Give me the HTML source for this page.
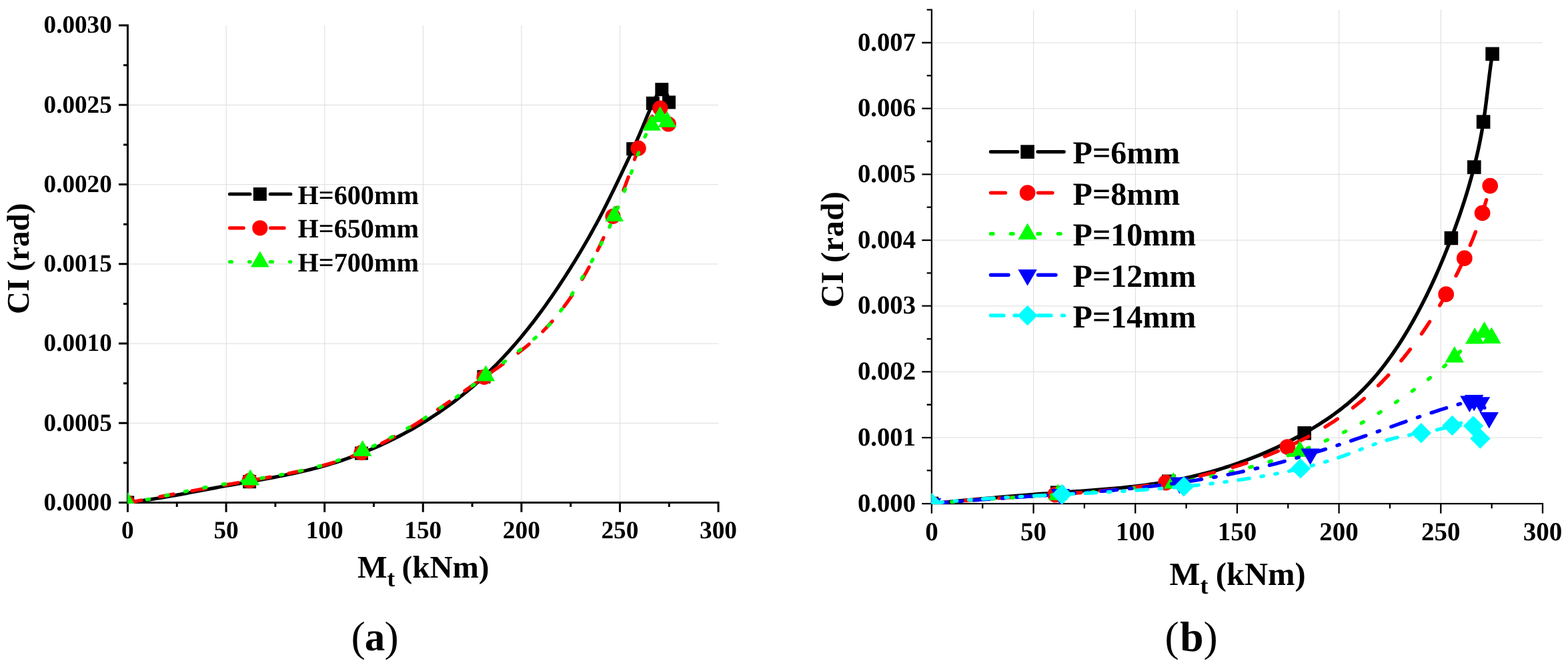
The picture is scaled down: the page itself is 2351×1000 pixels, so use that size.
<!DOCTYPE html>
<html lang="en">
<head>
<meta charset="utf-8">
<title>CI versus torsional moment</title>
<style>
html,body{margin:0;padding:0;background:#fff;}
body{width:2351px;height:1000px;overflow:hidden;}
svg{display:block;}
text{font-family:'Liberation Serif', 'Times New Roman', serif;fill:#000;text-rendering:geometricPrecision;}
.b{font-weight:bold;}
</style>
</head>
<body>
<svg width="2351" height="1000" viewBox="0 0 2351 1000">
<rect width="2351" height="1000" fill="#fff"/>
<clipPath id="cl"><rect x="191" y="0" width="925.6" height="754.8"/></clipPath>
<path d="M339.15 38.1 V753.55 M486.75 38.1 V753.55 M634.35 38.1 V753.55 M781.95 38.1 V753.55 M929.55 38.1 V753.55 M191.45 634.41 H1077.05 M191.45 515.17 H1077.05 M191.45 395.92 H1077.05 M191.45 276.68 H1077.05 M191.45 157.44 H1077.05" stroke="#dcdcdc" stroke-width="1" fill="none"/>
<path d="M191.45 36.6 V755.05 M189.95 753.55 H1078.55 M191.45 753.55 v14.15 M339.05 753.55 v14.15 M486.65 753.55 v14.15 M634.25 753.55 v14.15 M781.85 753.55 v14.15 M929.45 753.55 v14.15 M1077.05 753.55 v14.15 M265.25 753.55 v6.4 M412.85 753.55 v6.4 M560.45 753.55 v6.4 M708.05 753.55 v6.4 M855.65 753.55 v6.4 M1003.25 753.55 v6.4 M191.45 753.55 h-13.45 M191.45 634.31 h-13.45 M191.45 515.07 h-13.45 M191.45 395.82 h-13.45 M191.45 276.58 h-13.45 M191.45 157.34 h-13.45 M191.45 38.1 h-13.45 M191.45 693.93 h-6.4 M191.45 574.69 h-6.4 M191.45 455.45 h-6.4 M191.45 336.2 h-6.4 M191.45 216.96 h-6.4 M191.45 97.72 h-6.4" stroke="#000" stroke-width="3" fill="none"/>
<g clip-path="url(#cl)">
<path d="M191.2 753.4 L196.76 752.76 L202.3 752.08 L207.84 751.36 L213.37 750.61 L218.89 749.82 L224.4 749.01 L229.91 748.16 L235.4 747.28 L240.9 746.39 L246.39 745.46 L251.87 744.52 L257.35 743.56 L262.83 742.58 L268.3 741.59 L273.77 740.59 L279.24 739.57 L284.7 738.55 L290.17 737.52 L295.64 736.48 L301.1 735.45 L306.57 734.41 L312.04 733.38 L317.51 732.35 L322.98 731.32 L328.46 730.31 L333.94 729.3 L339.42 728.31 L344.91 727.33 L350.4 726.36 L355.89 725.39 L361.39 724.43 L366.89 723.47 L372.38 722.51 L377.88 721.54 L383.38 720.57 L388.87 719.6 L394.36 718.61 L399.85 717.62 L405.34 716.6 L410.82 715.58 L416.3 714.53 L421.78 713.46 L427.24 712.37 L432.7 711.26 L438.16 710.11 L443.6 708.94 L449.04 707.73 L454.47 706.49 L459.89 705.21 L465.3 703.9 L470.7 702.54 L476.08 701.13 L481.45 699.69 L486.82 698.19 L492.16 696.64 L497.5 695.05 L502.82 693.4 L508.12 691.7 L513.41 689.96 L518.68 688.16 L523.94 686.31 L529.17 684.42 L534.4 682.48 L539.6 680.48 L544.78 678.44 L549.95 676.35 L555.1 674.22 L560.23 672.03 L565.33 669.8 L570.42 667.52 L575.48 665.19 L580.53 662.81 L585.55 660.39 L590.54 657.92 L595.52 655.41 L600.47 652.84 L605.4 650.23 L610.3 647.58 L615.17 644.87 L620.03 642.13 L624.85 639.33 L629.65 636.49 L634.42 633.61 L639.16 630.68 L643.88 627.7 L648.56 624.68 L653.22 621.62 L657.85 618.51 L662.45 615.36 L667.01 612.16 L671.55 608.92 L676.06 605.63 L680.53 602.3 L684.97 598.93 L689.37 595.52 L693.75 592.06 L698.09 588.56 L702.39 585.01 L706.66 581.42 L710.9 577.79 L715.1 574.12 L719.26 570.41 L723.38 566.65 L727.47 562.86 L731.52 559.02 L735.54 555.14 L739.51 551.22 L743.45 547.27 L747.36 543.27 L751.23 539.24 L755.06 535.18 L758.86 531.08 L762.62 526.95 L766.35 522.79 L770.05 518.59 L773.71 514.37 L777.34 510.11 L780.93 505.83 L784.5 501.52 L788.03 497.18 L791.53 492.82 L794.99 488.44 L798.43 484.03 L801.84 479.6 L805.21 475.15 L808.55 470.68 L811.87 466.19 L815.16 461.68 L818.41 457.15 L821.64 452.61 L824.84 448.05 L828.01 443.48 L831.15 438.89 L834.27 434.29 L837.36 429.68 L840.42 425.06 L843.46 420.44 L846.47 415.8 L849.45 411.15 L852.41 406.5 L855.35 401.85 L858.25 397.19 L861.14 392.52 L864 387.85 L866.84 383.17 L869.66 378.48 L872.47 373.77 L875.25 369.04 L878.01 364.29 L880.76 359.51 L883.49 354.71 L886.21 349.88 L888.92 345.02 L891.61 340.11 L894.3 335.17 L896.97 330.19 L899.64 325.16 L902.3 320.09 L904.95 314.96 L907.6 309.78 L910.24 304.54 L912.88 299.26 L915.5 293.95 L918.11 288.64 L920.69 283.33 L923.24 278.06 L925.76 272.83 L928.24 267.67 L930.67 262.6 L933.05 257.62 L935.38 252.72 L937.68 247.9 L939.93 243.13 L942.16 238.42 L944.35 233.73 L946.51 229.07 L948.65 224.41 L950.78 219.75 L952.89 215.07 L954.99 210.35 L957.08 205.6 L959.18 200.78 L961.27 195.89 L963.37 190.92 L965.47 185.85 L967.61 180.66 L969.81 175.35 L972.1 169.89 L974.52 164.27 L977.09 158.46 L979.86 152.47 L982.81 146.49 L985.88 141.11 L989.01 136.88 L992.11 134.38 L995.13 134.21 L998 136.93 L1000.65 143.12 L1003.01 153.37" stroke="#000" stroke-width="5.2" fill="none" stroke-linecap="round" stroke-linejoin="round"/>
<rect x="181.2" y="743.4" width="20" height="20" fill="#000"/>
<rect x="364.1" y="712.2" width="20" height="20" fill="#000"/>
<rect x="531.9" y="669.6" width="20" height="20" fill="#000"/>
<rect x="715.4" y="554.8" width="20" height="20" fill="#000"/>
<rect x="939.2" y="213.2" width="20" height="20" fill="#000"/>
<rect x="968.8" y="144.8" width="20" height="20" fill="#000"/>
<rect x="982.3" y="124.2" width="20" height="20" fill="#000"/>
<rect x="993" y="143.4" width="20" height="20" fill="#000"/>
<path d="M191.3 754 L196.75 752.92 L202.19 751.85 L207.63 750.8 L213.06 749.75 L218.49 748.7 L223.92 747.67 L229.34 746.64 L234.76 745.62 L240.18 744.61 L245.59 743.6 L251 742.6 L256.41 741.61 L261.82 740.62 L267.22 739.63 L272.62 738.65 L278.03 737.67 L283.43 736.7 L288.83 735.73 L294.23 734.77 L299.64 733.81 L305.04 732.85 L310.44 731.89 L315.85 730.93 L321.26 729.98 L326.67 729.03 L332.08 728.07 L337.49 727.12 L342.91 726.17 L348.33 725.22 L353.75 724.27 L359.18 723.31 L364.61 722.36 L370.05 721.41 L375.49 720.45 L380.94 719.49 L386.38 718.52 L391.84 717.55 L397.29 716.57 L402.74 715.58 L408.2 714.57 L413.65 713.55 L419.09 712.51 L424.54 711.46 L429.98 710.38 L435.41 709.27 L440.83 708.15 L446.25 706.99 L451.65 705.8 L457.04 704.59 L462.43 703.33 L467.8 702.04 L473.15 700.72 L478.49 699.35 L483.81 697.94 L489.12 696.49 L494.4 694.98 L499.67 693.43 L504.91 691.83 L510.13 690.18 L515.33 688.47 L520.51 686.7 L525.65 684.88 L530.78 682.99 L535.87 681.04 L540.94 679.02 L545.97 676.94 L550.98 674.79 L555.95 672.57 L560.9 670.29 L565.82 667.95 L570.72 665.56 L575.59 663.11 L580.44 660.6 L585.26 658.04 L590.06 655.43 L594.84 652.77 L599.6 650.07 L604.34 647.32 L609.06 644.53 L613.76 641.7 L618.44 638.83 L623.11 635.93 L627.77 632.99 L632.41 630.02 L637.03 627.02 L641.65 623.99 L646.25 620.94 L650.84 617.86 L655.43 614.76 L660 611.64 L664.57 608.51 L669.12 605.36 L673.68 602.19 L678.22 599.02 L682.77 595.83 L687.31 592.64 L691.85 589.44 L696.38 586.24 L700.92 583.04 L705.45 579.83 L709.99 576.63 L714.53 573.44 L719.07 570.25 L723.62 567.08 L728.17 563.91 L732.72 560.75 L737.27 557.6 L741.82 554.45 L746.36 551.29 L750.89 548.12 L755.4 544.94 L759.89 541.74 L764.35 538.52 L768.78 535.26 L773.18 531.97 L777.55 528.65 L781.87 525.28 L786.14 521.86 L790.37 518.39 L794.54 514.86 L798.65 511.27 L802.7 507.61 L806.69 503.88 L810.61 500.08 L814.47 496.22 L818.27 492.29 L822 488.29 L825.68 484.23 L829.29 480.11 L832.84 475.94 L836.33 471.7 L839.77 467.42 L843.14 463.07 L846.46 458.68 L849.72 454.24 L852.93 449.74 L856.08 445.2 L859.18 440.62 L862.22 435.99 L865.21 431.32 L868.15 426.62 L871.04 421.87 L873.87 417.09 L876.65 412.27 L879.39 407.42 L882.08 402.55 L884.72 397.64 L887.31 392.72 L889.86 387.78 L892.37 382.81 L894.84 377.84 L897.26 372.86 L899.65 367.87 L902 362.87 L904.31 357.88 L906.59 352.88 L908.83 347.9 L911.04 342.92 L913.21 337.95 L915.36 333 L917.48 328.05 L919.57 323.12 L921.63 318.19 L923.67 313.25 L925.69 308.32 L927.68 303.37 L929.65 298.41 L931.61 293.43 L933.55 288.44 L935.47 283.42 L937.38 278.37 L939.28 273.28 L941.17 268.16 L943.05 263 L944.92 257.79 L946.78 252.54 L948.64 247.23 L950.5 241.86 L952.35 236.44 L954.21 230.95 L956.06 225.39 L957.92 219.75 L959.8 214.07 L961.72 208.38 L963.71 202.74 L965.8 197.19 L968.01 191.8 L970.38 186.6 L972.93 181.65 L975.68 177.01 L978.67 172.71 L981.93 168.81 L985.48 165.37 L989.34 162.43" stroke="#ff0000" stroke-width="5.2" fill="none" stroke-linecap="round" stroke-linejoin="round" stroke-dasharray="21 28.1"/>
<circle cx="191.3" cy="754" r="11.6" fill="#ff0000"/>
<circle cx="374.1" cy="720.7" r="11.6" fill="#ff0000"/>
<circle cx="542" cy="678.6" r="11.6" fill="#ff0000"/>
<circle cx="726" cy="565.4" r="11.6" fill="#ff0000"/>
<circle cx="919" cy="324.4" r="11.6" fill="#ff0000"/>
<circle cx="957.1" cy="222.2" r="11.6" fill="#ff0000"/>
<circle cx="989.8" cy="162.1" r="11.6" fill="#ff0000"/>
<circle cx="1002.2" cy="186" r="11.6" fill="#ff0000"/>
<path d="M191.6 754.1 L196.99 753.21 L202.36 752.29 L207.7 751.33 L213.02 750.35 L218.32 749.34 L223.6 748.3 L228.86 747.24 L234.1 746.16 L239.34 745.07 L244.56 743.97 L249.77 742.86 L254.98 741.74 L260.18 740.62 L265.38 739.5 L270.58 738.38 L275.78 737.27 L280.98 736.16 L286.19 735.07 L291.41 734 L296.63 732.94 L301.87 731.91 L307.12 730.9 L312.38 729.92 L317.66 728.96 L322.95 728.02 L328.26 727.11 L333.57 726.21 L338.9 725.32 L344.23 724.45 L349.57 723.59 L354.92 722.74 L360.27 721.89 L365.63 721.04 L370.99 720.19 L376.35 719.34 L381.71 718.49 L387.08 717.63 L392.44 716.75 L397.79 715.87 L403.15 714.97 L408.5 714.05 L413.84 713.11 L419.18 712.15 L424.51 711.17 L429.82 710.15 L435.13 709.11 L440.43 708.03 L445.71 706.92 L450.98 705.77 L456.24 704.58 L461.48 703.35 L466.7 702.07 L471.9 700.74 L477.08 699.37 L482.25 697.94 L487.39 696.45 L492.51 694.91 L497.6 693.31 L502.68 691.66 L507.73 689.95 L512.76 688.19 L517.77 686.37 L522.76 684.51 L527.72 682.59 L532.67 680.62 L537.6 678.61 L542.5 676.54 L547.39 674.43 L552.26 672.27 L557.11 670.07 L561.94 667.82 L566.75 665.53 L571.55 663.2 L576.32 660.83 L581.08 658.41 L585.82 655.96 L590.54 653.46 L595.25 650.93 L599.94 648.37 L604.62 645.76 L609.27 643.13 L613.92 640.45 L618.55 637.75 L623.16 635.01 L627.76 632.24 L632.34 629.45 L636.91 626.62 L641.46 623.76 L646.01 620.88 L650.54 617.97 L655.05 615.04 L659.55 612.08 L664.04 609.1 L668.52 606.09 L672.99 603.07 L677.44 600.02 L681.89 596.95 L686.32 593.87 L690.74 590.76 L695.15 587.64 L699.55 584.5 L703.95 581.35 L708.33 578.19 L712.7 575.01 L717.06 571.82 L721.42 568.62 L725.76 565.4 L730.1 562.18 L734.43 558.95 L738.75 555.71 L743.07 552.47 L747.38 549.22 L751.68 545.97 L755.97 542.71 L760.26 539.45 L764.55 536.18 L768.82 532.92 L773.1 529.66 L777.36 526.4 L781.63 523.14 L785.88 519.87 L790.11 516.59 L794.31 513.29 L798.48 509.95 L802.59 506.57 L806.64 503.13 L810.63 499.62 L814.53 496.03 L818.35 492.35 L822.06 488.57 L825.67 484.69 L829.17 480.7 L832.58 476.61 L835.9 472.43 L839.14 468.17 L842.3 463.85 L845.41 459.45 L848.46 455.01 L851.46 450.52 L854.43 445.99 L857.36 441.44 L860.28 436.86 L863.17 432.27 L866.04 427.67 L868.9 423.04 L871.72 418.41 L874.53 413.76 L877.31 409.09 L880.06 404.42 L882.78 399.73 L885.47 395.03 L888.13 390.31 L890.76 385.59 L893.36 380.85 L895.92 376.1 L898.44 371.35 L900.93 366.58 L903.38 361.81 L905.78 357.02 L908.15 352.23 L910.47 347.43 L912.75 342.62 L914.98 337.81 L917.17 332.99 L919.31 328.16 L921.41 323.32 L923.47 318.48 L925.5 313.62 L927.5 308.75 L929.46 303.88 L931.4 298.98 L933.32 294.08 L935.22 289.16 L937.1 284.22 L938.97 279.27 L940.83 274.3 L942.68 269.31 L944.53 264.3 L946.37 259.27 L948.22 254.22 L950.08 249.15 L951.94 244.05 L953.81 238.93 L955.7 233.78 L957.6 228.61 L959.53 223.41 L961.49 218.19 L963.53 213.01 L965.68 207.89 L967.98 202.88 L970.47 198.02 L973.19 193.36 L976.18 188.92 L979.47 184.76 L983.12 180.91 L987.14 177.42 L991.58 174.39 L996.18 174.35 L1000.31 182.83" stroke="#00ff00" stroke-width="5.2" fill="none" stroke-linecap="round" stroke-linejoin="round" stroke-dasharray="3.5 25.6"/>
<path d="M191.6 738 L205.5 762.07 L177.7 762.07Z" fill="#00ff00"/>
<path d="M375.3 703.4 L389.2 727.47 L361.4 727.47Z" fill="#00ff00"/>
<path d="M543.6 660 L557.5 684.07 L529.7 684.07Z" fill="#00ff00"/>
<path d="M728.3 547.4 L742.2 571.47 L714.4 571.47Z" fill="#00ff00"/>
<path d="M921.1 308 L935 332.07 L907.2 332.07Z" fill="#00ff00"/>
<path d="M977 171.8 L990.9 195.87 L963.1 195.87Z" fill="#00ff00"/>
<path d="M989.7 159.3 L1003.6 183.37 L975.8 183.37Z" fill="#00ff00"/>
<path d="M1000.3 166.8 L1014.2 190.87 L986.4 190.87Z" fill="#00ff00"/>
</g>
<text x="167.8" y="764.85" font-size="37.2" text-anchor="end" class="b">0.0000</text>
<text x="167.8" y="645.61" font-size="37.2" text-anchor="end" class="b">0.0005</text>
<text x="167.8" y="526.37" font-size="37.2" text-anchor="end" class="b">0.0010</text>
<text x="167.8" y="407.12" font-size="37.2" text-anchor="end" class="b">0.0015</text>
<text x="167.8" y="287.88" font-size="37.2" text-anchor="end" class="b">0.0020</text>
<text x="167.8" y="168.64" font-size="37.2" text-anchor="end" class="b">0.0025</text>
<text x="167.8" y="49.4" font-size="37.2" text-anchor="end" class="b">0.0030</text>
<text x="191.45" y="806.5" font-size="37.3" text-anchor="middle" class="b">0</text>
<text x="339.05" y="806.5" font-size="37.3" text-anchor="middle" class="b">50</text>
<text x="486.65" y="806.5" font-size="37.3" text-anchor="middle" class="b">100</text>
<text x="634.25" y="806.5" font-size="37.3" text-anchor="middle" class="b">150</text>
<text x="781.85" y="806.5" font-size="37.3" text-anchor="middle" class="b">200</text>
<text x="929.45" y="806.5" font-size="37.3" text-anchor="middle" class="b">250</text>
<text x="1077.05" y="806.5" font-size="37.3" text-anchor="middle" class="b">300</text>
<text x="536" y="865.9" font-size="47.2" class="b">M<tspan dy="13" font-size="35">t</tspan><tspan dy="-13" dx="-1.5"> (kNm)</tspan></text>
<text transform="translate(42.7 470.9) rotate(-90)" font-size="47.2" class="b">CI (rad)</text>
<path d="M344.5 291 H374.8 M405.3 291 H435.8" stroke="#000" stroke-width="5.2" stroke-linecap="round" fill="none"/><rect x="379.8" y="281" width="20" height="20" fill="#000"/><text x="446.5" y="305.5" font-size="40.2" text-anchor="start" class="b">H=600mm</text>
<path d="M344.5 341.8 H365.2 M405.5 341.8 H426.1" stroke="#ff0000" stroke-width="5.2" stroke-linecap="round" fill="none"/><circle cx="389.8" cy="341.8" r="11.6" fill="#ff0000"/><text x="446.5" y="356.3" font-size="40.2" text-anchor="start" class="b">H=650mm</text>
<path d="M344.5 392.5 H347.5 M373.5 392.5 H375.1 M405.3 392.5 H408.5 M434.5 392.5 H435.8" stroke="#00ff00" stroke-width="5.2" stroke-linecap="round" fill="none"/><path d="M389.8 376.5 L403.7 400.57 L375.9 400.57Z" fill="#00ff00"/><text x="446.5" y="407.1" font-size="40.2" text-anchor="start" class="b">H=700mm</text>
<text x="526.4" y="975.6" font-size="63.8">(<tspan class="b" font-size="61" dx="-0.9" dy="-0.6">a</tspan><tspan dx="-0.8" dy="0.6">)</tspan></text>
<clipPath id="cr"><rect x="1396.45" y="0" width="956.07" height="756.1"/></clipPath>
<path d="M1549.68 14.65 V755.05 M1702.36 14.65 V755.05 M1855.03 14.65 V755.05 M2007.71 14.65 V755.05 M2160.39 14.65 V755.05 M1396.9 656.17 H2312.97 M1396.9 557.49 H2312.97 M1396.9 458.81 H2312.97 M1396.9 360.13 H2312.97 M1396.9 261.45 H2312.97 M1396.9 162.77 H2312.97 M1396.9 64.09 H2312.97" stroke="#dcdcdc" stroke-width="1" fill="none"/>
<path d="M1396.9 13.5 V756.2 M1395.75 755.05 H2314.12 M1396.9 755.05 v14.7 M1549.58 755.05 v14.7 M1702.26 755.05 v14.7 M1854.93 755.05 v14.7 M2007.61 755.05 v14.7 M2160.29 755.05 v14.7 M2312.97 755.05 v14.7 M1473.24 755.05 v7.2 M1625.92 755.05 v7.2 M1778.6 755.05 v7.2 M1931.27 755.05 v7.2 M2083.95 755.05 v7.2 M2236.63 755.05 v7.2 M1396.9 755.05 h-14.6 M1396.9 656.07 h-14.6 M1396.9 557.39 h-14.6 M1396.9 458.71 h-14.6 M1396.9 360.03 h-14.6 M1396.9 261.35 h-14.6 M1396.9 162.67 h-14.6 M1396.9 63.99 h-14.6 M1396.9 705.41 h-7.2 M1396.9 606.73 h-7.2 M1396.9 508.05 h-7.2 M1396.9 409.37 h-7.2 M1396.9 310.69 h-7.2 M1396.9 212.01 h-7.2 M1396.9 113.33 h-7.2 M1396.9 14.65 h-7.2" stroke="#000" stroke-width="2.3" fill="none"/>
<g clip-path="url(#cr)">
<path d="M1397 755 L1403.15 754.39 L1409.31 753.78 L1415.46 753.18 L1421.62 752.58 L1427.77 751.98 L1433.93 751.39 L1440.09 750.81 L1446.25 750.23 L1452.41 749.66 L1458.57 749.09 L1464.74 748.52 L1470.9 747.96 L1477.07 747.41 L1483.23 746.86 L1489.4 746.32 L1495.57 745.79 L1501.74 745.25 L1507.91 744.73 L1514.08 744.21 L1520.26 743.7 L1526.43 743.19 L1532.61 742.69 L1538.79 742.2 L1544.96 741.71 L1551.14 741.23 L1557.32 740.76 L1563.51 740.29 L1569.69 739.83 L1575.87 739.38 L1582.06 738.93 L1588.24 738.49 L1594.43 738.05 L1600.62 737.62 L1606.81 737.19 L1613 736.76 L1619.18 736.33 L1625.37 735.89 L1631.56 735.45 L1637.74 734.99 L1643.93 734.52 L1650.11 734.04 L1656.28 733.54 L1662.46 733.02 L1668.63 732.48 L1674.8 731.91 L1680.97 731.32 L1687.13 730.7 L1693.28 730.05 L1699.44 729.37 L1705.58 728.65 L1711.72 727.9 L1717.86 727.1 L1723.99 726.26 L1730.11 725.38 L1736.23 724.45 L1742.33 723.47 L1748.43 722.45 L1754.53 721.36 L1760.61 720.23 L1766.68 719.03 L1772.75 717.79 L1778.8 716.48 L1784.85 715.13 L1790.88 713.71 L1796.9 712.24 L1802.91 710.72 L1808.9 709.14 L1814.88 707.5 L1820.84 705.81 L1826.79 704.06 L1832.72 702.26 L1838.63 700.4 L1844.53 698.48 L1850.4 696.51 L1856.26 694.48 L1862.1 692.4 L1867.92 690.26 L1873.72 688.06 L1879.49 685.81 L1885.25 683.49 L1890.98 681.13 L1896.68 678.7 L1902.37 676.22 L1908.02 673.68 L1913.66 671.09 L1919.26 668.44 L1924.84 665.73 L1930.39 662.96 L1935.91 660.13 L1941.4 657.25 L1946.87 654.31 L1952.3 651.32 L1957.7 648.26 L1963.07 645.15 L1968.4 641.98 L1973.7 638.74 L1978.95 635.44 L1984.16 632.08 L1989.31 628.65 L1994.42 625.15 L1999.46 621.58 L2004.45 617.93 L2009.38 614.22 L2014.24 610.43 L2019.03 606.56 L2023.76 602.61 L2028.4 598.58 L2032.97 594.46 L2037.45 590.27 L2041.85 585.99 L2046.18 581.63 L2050.42 577.19 L2054.59 572.67 L2058.68 568.09 L2062.7 563.44 L2066.64 558.72 L2070.52 553.93 L2074.33 549.09 L2078.07 544.18 L2081.74 539.22 L2085.36 534.21 L2088.91 529.15 L2092.4 524.04 L2095.83 518.89 L2099.21 513.7 L2102.53 508.46 L2105.8 503.2 L2109.02 497.89 L2112.19 492.56 L2115.31 487.2 L2118.38 481.82 L2121.41 476.4 L2124.39 470.97 L2127.33 465.5 L2130.22 460.02 L2133.07 454.51 L2135.87 448.97 L2138.64 443.42 L2141.36 437.84 L2144.04 432.25 L2146.69 426.63 L2149.29 421 L2151.86 415.35 L2154.39 409.68 L2156.88 403.99 L2159.34 398.29 L2161.76 392.57 L2164.15 386.84 L2166.5 381.09 L2168.82 375.33 L2171.11 369.56 L2173.37 363.78 L2175.6 357.99 L2177.8 352.18 L2179.97 346.37 L2182.11 340.55 L2184.21 334.71 L2186.28 328.87 L2188.32 323.02 L2190.33 317.15 L2192.29 311.27 L2194.22 305.39 L2196.12 299.49 L2197.97 293.58 L2199.79 287.67 L2201.57 281.74 L2203.3 275.8 L2205 269.84 L2206.65 263.88 L2208.25 257.9 L2209.82 251.92 L2211.33 245.92 L2212.8 239.91 L2214.23 233.89 L2215.6 227.86 L2216.93 221.81 L2218.2 215.75 L2219.43 209.68 L2220.6 203.6 L2221.72 197.51 L2222.78 191.4 L2223.8 185.28 L2224.75 179.15 L2225.66 173 L2226.52 166.85 L2227.34 160.69 L2228.13 154.52 L2228.89 148.35 L2229.64 142.18 L2230.37 136.01 L2231.1 129.85 L2231.84 123.69 L2232.58 117.54 L2233.33 111.39 L2234.11 105.26 L2234.92 99.14 L2235.76 93.04 L2236.65 86.96 L2237.58 80.89" stroke="#000" stroke-width="5.4" fill="none" stroke-linecap="round" stroke-linejoin="round"/>
<rect x="1386.7" y="744.7" width="20.6" height="20.6" fill="#000"/>
<rect x="1575" y="728.4" width="20.6" height="20.6" fill="#000"/>
<rect x="1742.1" y="711.5" width="20.6" height="20.6" fill="#000"/>
<rect x="1945.4" y="639.1" width="20.6" height="20.6" fill="#000"/>
<rect x="2165.6" y="346.7" width="20.6" height="20.6" fill="#000"/>
<rect x="2200" y="240.3" width="20.6" height="20.6" fill="#000"/>
<rect x="2213.8" y="172.4" width="20.6" height="20.6" fill="#000"/>
<rect x="2227.3" y="70.6" width="20.6" height="20.6" fill="#000"/>
<path d="M1397.01 755 L1402.25 754.47 L1407.49 753.95 L1412.73 753.45 L1417.98 752.97 L1423.24 752.49 L1428.49 752.03 L1433.76 751.59 L1439.02 751.15 L1444.29 750.73 L1449.57 750.31 L1454.85 749.91 L1460.13 749.51 L1465.41 749.13 L1470.7 748.75 L1475.99 748.38 L1481.28 748.01 L1486.58 747.65 L1491.87 747.3 L1497.17 746.95 L1502.47 746.61 L1507.78 746.27 L1513.08 745.93 L1518.39 745.59 L1523.7 745.26 L1529.01 744.92 L1534.32 744.59 L1539.63 744.26 L1544.94 743.92 L1550.26 743.58 L1555.57 743.24 L1560.88 742.9 L1566.2 742.56 L1571.51 742.21 L1576.83 741.85 L1582.14 741.49 L1587.45 741.12 L1592.76 740.75 L1598.07 740.37 L1603.39 739.98 L1608.69 739.58 L1614 739.17 L1619.31 738.75 L1624.61 738.32 L1629.92 737.88 L1635.22 737.43 L1640.52 736.96 L1645.81 736.48 L1651.11 735.99 L1656.4 735.48 L1661.69 734.96 L1666.97 734.42 L1672.25 733.87 L1677.53 733.3 L1682.81 732.7 L1688.08 732.1 L1693.35 731.47 L1698.62 730.82 L1703.88 730.15 L1709.13 729.46 L1714.38 728.75 L1719.63 728.02 L1724.88 727.26 L1730.11 726.48 L1735.35 725.67 L1740.57 724.84 L1745.8 723.99 L1751.01 723.11 L1756.23 722.2 L1761.43 721.26 L1766.63 720.3 L1771.82 719.3 L1777.01 718.28 L1782.19 717.23 L1787.37 716.14 L1792.53 715.03 L1797.69 713.88 L1802.85 712.7 L1807.99 711.48 L1813.13 710.24 L1818.26 708.95 L1823.38 707.64 L1828.5 706.28 L1833.61 704.89 L1838.71 703.46 L1843.8 702 L1848.88 700.49 L1853.95 698.95 L1859.02 697.37 L1864.07 695.74 L1869.12 694.08 L1874.15 692.37 L1879.18 690.62 L1884.19 688.83 L1889.19 687 L1894.18 685.13 L1899.15 683.21 L1904.11 681.25 L1909.05 679.25 L1913.97 677.2 L1918.88 675.11 L1923.76 672.98 L1928.62 670.8 L1933.47 668.57 L1938.29 666.31 L1943.09 664 L1947.86 661.64 L1952.61 659.24 L1957.34 656.79 L1962.03 654.29 L1966.7 651.76 L1971.34 649.17 L1975.96 646.54 L1980.54 643.86 L1985.09 641.13 L1989.6 638.36 L1994.09 635.54 L1998.54 632.67 L2002.95 629.75 L2007.33 626.79 L2011.67 623.77 L2015.98 620.71 L2020.24 617.6 L2024.47 614.44 L2028.65 611.23 L2032.8 607.97 L2036.9 604.66 L2040.95 601.31 L2044.97 597.9 L2048.94 594.44 L2052.87 590.94 L2056.76 587.39 L2060.6 583.79 L2064.41 580.15 L2068.17 576.47 L2071.9 572.74 L2075.58 568.97 L2079.22 565.16 L2082.82 561.31 L2086.39 557.42 L2089.91 553.49 L2093.39 549.52 L2096.84 545.51 L2100.25 541.47 L2103.62 537.39 L2106.95 533.28 L2110.24 529.14 L2113.5 524.96 L2116.72 520.75 L2119.9 516.51 L2123.05 512.24 L2126.16 507.94 L2129.24 503.61 L2132.28 499.25 L2135.28 494.86 L2138.25 490.45 L2141.19 486.02 L2144.09 481.56 L2146.96 477.07 L2149.8 472.57 L2152.6 468.04 L2155.37 463.49 L2158.1 458.92 L2160.81 454.34 L2163.48 449.73 L2166.12 445.11 L2168.73 440.46 L2171.3 435.81 L2173.85 431.14 L2176.36 426.45 L2178.84 421.74 L2181.29 417.02 L2183.71 412.29 L2186.09 407.54 L2188.43 402.77 L2190.74 397.99 L2193.01 393.19 L2195.25 388.37 L2197.45 383.54 L2199.62 378.7 L2201.74 373.84 L2203.83 368.96 L2205.88 364.07 L2207.89 359.17 L2209.85 354.25 L2211.78 349.31 L2213.67 344.36 L2215.52 339.39 L2217.32 334.41 L2219.08 329.41 L2220.8 324.4 L2222.48 319.38 L2224.11 314.34 L2225.7 309.28 L2227.24 304.21 L2228.74 299.12 L2230.19 294.02 L2231.59 288.91 L2232.95 283.78 L2234.26 278.64" stroke="#ff0000" stroke-width="5.4" fill="none" stroke-linecap="round" stroke-linejoin="round" stroke-dasharray="21.8 28.8"/>
<circle cx="1397" cy="755" r="11.85" fill="#ff0000"/>
<circle cx="1582.3" cy="741.5" r="11.85" fill="#ff0000"/>
<circle cx="1748" cy="723.6" r="11.85" fill="#ff0000"/>
<circle cx="1930.4" cy="670" r="11.85" fill="#ff0000"/>
<circle cx="2168.2" cy="441.2" r="11.85" fill="#ff0000"/>
<circle cx="2195.8" cy="387.2" r="11.85" fill="#ff0000"/>
<circle cx="2222.6" cy="319.4" r="11.85" fill="#ff0000"/>
<circle cx="2234.2" cy="278.6" r="11.85" fill="#ff0000"/>
<path d="M1397 755.1 L1401.51 754.68 L1406.01 754.27 L1410.52 753.87 L1415.03 753.47 L1419.55 753.09 L1424.06 752.71 L1428.58 752.34 L1433.1 751.98 L1437.62 751.62 L1442.15 751.27 L1446.67 750.92 L1451.2 750.58 L1455.73 750.25 L1460.26 749.92 L1464.79 749.6 L1469.32 749.28 L1473.85 748.96 L1478.39 748.65 L1482.93 748.34 L1487.46 748.04 L1492 747.73 L1496.54 747.43 L1501.08 747.14 L1505.63 746.84 L1510.17 746.55 L1514.71 746.26 L1519.26 745.97 L1523.8 745.68 L1528.35 745.39 L1532.89 745.1 L1537.44 744.81 L1541.98 744.52 L1546.53 744.23 L1551.08 743.93 L1555.63 743.64 L1560.17 743.35 L1564.72 743.05 L1569.27 742.75 L1573.82 742.45 L1578.36 742.14 L1582.91 741.84 L1587.46 741.52 L1592 741.21 L1596.55 740.89 L1601.09 740.57 L1605.64 740.24 L1610.18 739.91 L1614.72 739.57 L1619.27 739.22 L1623.81 738.87 L1628.35 738.52 L1632.89 738.15 L1637.43 737.78 L1641.97 737.41 L1646.5 737.02 L1651.04 736.63 L1655.57 736.23 L1660.11 735.82 L1664.64 735.4 L1669.17 734.98 L1673.69 734.54 L1678.22 734.1 L1682.75 733.64 L1687.27 733.17 L1691.79 732.7 L1696.31 732.21 L1700.83 731.71 L1705.34 731.2 L1709.86 730.68 L1714.37 730.15 L1718.88 729.6 L1723.39 729.05 L1727.89 728.48 L1732.39 727.89 L1736.89 727.29 L1741.39 726.68 L1745.88 726.05 L1750.38 725.41 L1754.86 724.76 L1759.35 724.09 L1763.83 723.4 L1768.31 722.7 L1772.79 721.98 L1777.27 721.25 L1781.74 720.5 L1786.21 719.73 L1790.67 718.95 L1795.13 718.14 L1799.59 717.32 L1804.05 716.48 L1808.5 715.63 L1812.94 714.75 L1817.39 713.86 L1821.83 712.94 L1826.26 712.01 L1830.7 711.06 L1835.13 710.08 L1839.55 709.09 L1843.97 708.07 L1848.39 707.03 L1852.8 705.98 L1857.21 704.89 L1861.61 703.79 L1866.01 702.67 L1870.41 701.52 L1874.8 700.35 L1879.18 699.16 L1883.56 697.94 L1887.94 696.7 L1892.31 695.43 L1896.68 694.14 L1901.04 692.82 L1905.4 691.48 L1909.75 690.12 L1914.1 688.72 L1918.44 687.31 L1922.77 685.86 L1927.1 684.39 L1931.43 682.89 L1935.75 681.37 L1940.07 679.81 L1944.37 678.23 L1948.67 676.63 L1952.97 674.99 L1957.25 673.33 L1961.52 671.65 L1965.79 669.93 L1970.04 668.2 L1974.29 666.43 L1978.52 664.64 L1982.74 662.83 L1986.94 660.99 L1991.13 659.13 L1995.31 657.24 L1999.47 655.32 L2003.61 653.39 L2007.74 651.43 L2011.85 649.44 L2015.95 647.43 L2020.02 645.4 L2024.07 643.35 L2028.11 641.27 L2032.12 639.17 L2036.12 637.05 L2040.09 634.9 L2044.03 632.74 L2047.96 630.55 L2051.86 628.34 L2055.75 626.1 L2059.61 623.85 L2063.46 621.57 L2067.29 619.26 L2071.11 616.94 L2074.92 614.58 L2078.72 612.21 L2082.5 609.81 L2086.28 607.38 L2090.05 604.93 L2093.82 602.45 L2097.58 599.94 L2101.34 597.41 L2105.1 594.85 L2108.86 592.26 L2112.62 589.65 L2116.39 587 L2120.16 584.33 L2123.93 581.63 L2127.7 578.91 L2131.47 576.15 L2135.21 573.38 L2138.94 570.58 L2142.64 567.76 L2146.31 564.92 L2149.94 562.06 L2153.53 559.18 L2157.07 556.29 L2160.55 553.38 L2163.98 550.45 L2167.34 547.52 L2170.63 544.57 L2173.87 541.61 L2177.08 538.63 L2180.27 535.63 L2183.44 532.62 L2186.63 529.59 L2189.83 526.54 L2193.07 523.47 L2196.36 520.37 L2199.72 517.25 L2203.15 514.1 L2206.67 510.93 L2210.3 507.72 L2214.05 504.52 L2217.88 501.61 L2221.74 499.41 L2225.58 498.36 L2229.34 498.89 L2232.97 501.43 L2236.42 506.39" stroke="#00ff00" stroke-width="5.4" fill="none" stroke-linecap="round" stroke-linejoin="round" stroke-dasharray="3.5 26.55"/>
<path d="M1397 739 L1411.2 763.59 L1382.8 763.59Z" fill="#00ff00"/>
<path d="M1586.2 725.5 L1600.4 750.09 L1572 750.09Z" fill="#00ff00"/>
<path d="M1759.4 708 L1773.6 732.59 L1745.2 732.59Z" fill="#00ff00"/>
<path d="M1949 660.4 L1963.2 684.99 L1934.8 684.99Z" fill="#00ff00"/>
<path d="M2180.8 519 L2195 543.59 L2166.6 543.59Z" fill="#00ff00"/>
<path d="M2211.2 491 L2225.4 515.59 L2197 515.59Z" fill="#00ff00"/>
<path d="M2225.6 482 L2239.8 506.59 L2211.4 506.59Z" fill="#00ff00"/>
<path d="M2236.4 490.4 L2250.6 514.99 L2222.2 514.99Z" fill="#00ff00"/>
<path d="M1397 755.1 L1401.34 754.7 L1405.67 754.31 L1410.01 753.93 L1414.35 753.55 L1418.69 753.18 L1423.03 752.82 L1427.37 752.46 L1431.72 752.11 L1436.06 751.76 L1440.41 751.42 L1444.76 751.08 L1449.11 750.75 L1453.46 750.42 L1457.81 750.09 L1462.16 749.77 L1466.51 749.46 L1470.86 749.14 L1475.22 748.83 L1479.57 748.53 L1483.93 748.22 L1488.29 747.92 L1492.64 747.62 L1497 747.33 L1501.36 747.03 L1505.72 746.74 L1510.08 746.45 L1514.44 746.16 L1518.8 745.87 L1523.16 745.58 L1527.52 745.29 L1531.88 745 L1536.24 744.72 L1540.6 744.43 L1544.96 744.14 L1549.32 743.85 L1553.69 743.57 L1558.05 743.28 L1562.41 742.98 L1566.77 742.69 L1571.13 742.4 L1575.5 742.1 L1579.86 741.81 L1584.22 741.51 L1588.58 741.2 L1592.94 740.9 L1597.3 740.59 L1601.66 740.28 L1606.02 739.96 L1610.38 739.65 L1614.74 739.32 L1619.1 739 L1623.46 738.67 L1627.82 738.33 L1632.17 737.99 L1636.53 737.65 L1640.89 737.3 L1645.24 736.95 L1649.6 736.58 L1653.95 736.22 L1658.3 735.85 L1662.65 735.47 L1667 735.08 L1671.35 734.69 L1675.7 734.29 L1680.05 733.88 L1684.4 733.47 L1688.74 733.05 L1693.09 732.62 L1697.43 732.18 L1701.77 731.74 L1706.12 731.29 L1710.46 730.82 L1714.79 730.35 L1719.13 729.87 L1723.47 729.38 L1727.8 728.88 L1732.13 728.37 L1736.47 727.85 L1740.79 727.32 L1745.12 726.78 L1749.45 726.23 L1753.77 725.67 L1758.1 725.1 L1762.42 724.51 L1766.74 723.92 L1771.05 723.31 L1775.37 722.69 L1779.68 722.06 L1784 721.41 L1788.31 720.75 L1792.61 720.08 L1796.92 719.4 L1801.22 718.7 L1805.52 717.99 L1809.82 717.27 L1814.12 716.53 L1818.42 715.78 L1822.71 715.01 L1827 714.23 L1831.29 713.43 L1835.57 712.62 L1839.85 711.79 L1844.13 710.95 L1848.41 710.09 L1852.69 709.21 L1856.96 708.32 L1861.23 707.42 L1865.5 706.49 L1869.76 705.55 L1874.02 704.59 L1878.28 703.62 L1882.54 702.63 L1886.79 701.62 L1891.04 700.6 L1895.29 699.57 L1899.53 698.52 L1903.77 697.45 L1908.01 696.37 L1912.24 695.27 L1916.48 694.16 L1920.7 693.03 L1924.93 691.89 L1929.15 690.74 L1933.37 689.57 L1937.58 688.39 L1941.79 687.2 L1946 685.99 L1950.2 684.77 L1954.41 683.53 L1958.6 682.29 L1962.8 681.03 L1966.99 679.76 L1971.17 678.48 L1975.35 677.19 L1979.53 675.89 L1983.71 674.58 L1987.88 673.26 L1992.05 671.93 L1996.21 670.59 L2000.37 669.24 L2004.53 667.88 L2008.68 666.52 L2012.83 665.14 L2016.98 663.76 L2021.12 662.37 L2025.26 660.98 L2029.39 659.58 L2033.53 658.17 L2037.65 656.76 L2041.78 655.33 L2045.89 653.91 L2050.01 652.48 L2054.12 651.04 L2058.23 649.6 L2062.33 648.16 L2066.43 646.71 L2070.53 645.26 L2074.62 643.81 L2078.71 642.35 L2082.8 640.89 L2086.88 639.44 L2090.97 637.98 L2095.05 636.52 L2099.13 635.07 L2103.22 633.62 L2107.31 632.17 L2111.4 630.73 L2115.49 629.29 L2119.58 627.86 L2123.68 626.43 L2127.79 625.02 L2131.9 623.61 L2136.01 622.21 L2140.14 620.81 L2144.26 619.43 L2148.4 618.07 L2152.55 616.71 L2156.7 615.37 L2160.87 614.04 L2165.04 612.72 L2169.23 611.43 L2173.42 610.14 L2177.63 608.88 L2181.86 607.63 L2186.09 606.4 L2190.34 605.19 L2194.61 604 L2198.89 602.83 L2203.18 601.69 L2207.49 600.65 L2211.75 600.17 L2215.91 600.82 L2219.9 603.18 L2223.57 607.47 L2226.43 612.51 L2227.89 616.76 L2228.11 619.53 L2229.02 622.11 L2232.8 626.1" stroke="#0000ff" stroke-width="5.4" fill="none" stroke-linecap="round" stroke-linejoin="round" stroke-dasharray="23.6 18.35 3.5 18.35"/>
<path d="M1382.8 747 L1411.2 747 L1397 771.59Z" fill="#0000ff"/>
<path d="M1575.8 733 L1604.2 733 L1590 757.59Z" fill="#0000ff"/>
<path d="M1754.2 715.6 L1782.6 715.6 L1768.4 740.19Z" fill="#0000ff"/>
<path d="M1950.4 672.4 L1978.8 672.4 L1964.6 696.99Z" fill="#0000ff"/>
<path d="M2189.2 593.6 L2217.6 593.6 L2203.4 618.19Z" fill="#0000ff"/>
<path d="M2196 592 L2224.4 592 L2210.2 616.59Z" fill="#0000ff"/>
<path d="M2205.8 595.2 L2234.2 595.2 L2220 619.79Z" fill="#0000ff"/>
<path d="M2218.6 618 L2247 618 L2232.8 642.59Z" fill="#0000ff"/>
<path d="M1397 754.5 L1401.24 754.07 L1405.48 753.65 L1409.72 753.24 L1413.97 752.84 L1418.21 752.44 L1422.46 752.06 L1426.7 751.68 L1430.95 751.31 L1435.2 750.95 L1439.44 750.6 L1443.69 750.25 L1447.94 749.92 L1452.2 749.59 L1456.45 749.26 L1460.7 748.94 L1464.95 748.63 L1469.21 748.33 L1473.46 748.03 L1477.72 747.74 L1481.97 747.45 L1486.23 747.17 L1490.49 746.89 L1494.75 746.62 L1499.01 746.35 L1503.26 746.09 L1507.52 745.83 L1511.78 745.57 L1516.04 745.32 L1520.31 745.08 L1524.57 744.84 L1528.83 744.6 L1533.09 744.36 L1537.35 744.13 L1541.62 743.9 L1545.88 743.67 L1550.14 743.44 L1554.4 743.22 L1558.67 743 L1562.93 742.78 L1567.2 742.56 L1571.46 742.34 L1575.72 742.12 L1579.99 741.91 L1584.25 741.69 L1588.52 741.48 L1592.78 741.27 L1597.05 741.05 L1601.31 740.84 L1605.58 740.62 L1609.84 740.41 L1614.1 740.19 L1618.37 739.97 L1622.63 739.76 L1626.9 739.54 L1631.16 739.31 L1635.42 739.09 L1639.69 738.87 L1643.95 738.64 L1648.21 738.41 L1652.47 738.18 L1656.74 737.94 L1661 737.7 L1665.26 737.46 L1669.52 737.22 L1673.78 736.97 L1678.04 736.71 L1682.3 736.46 L1686.56 736.19 L1690.81 735.93 L1695.07 735.66 L1699.33 735.38 L1703.59 735.1 L1707.84 734.82 L1712.1 734.52 L1716.35 734.23 L1720.61 733.92 L1724.86 733.61 L1729.11 733.3 L1733.36 732.97 L1737.61 732.65 L1741.86 732.31 L1746.11 731.97 L1750.36 731.61 L1754.61 731.26 L1758.85 730.89 L1763.1 730.51 L1767.34 730.13 L1771.59 729.74 L1775.83 729.34 L1780.07 728.93 L1784.31 728.51 L1788.55 728.09 L1792.79 727.65 L1797.02 727.2 L1801.26 726.75 L1805.5 726.28 L1809.73 725.8 L1813.96 725.31 L1818.19 724.82 L1822.42 724.31 L1826.65 723.79 L1830.88 723.26 L1835.1 722.71 L1839.33 722.16 L1843.55 721.59 L1847.77 721.01 L1851.99 720.42 L1856.21 719.82 L1860.43 719.2 L1864.64 718.57 L1868.85 717.93 L1873.07 717.27 L1877.28 716.6 L1881.49 715.91 L1885.69 715.22 L1889.9 714.5 L1894.1 713.78 L1898.31 713.03 L1902.51 712.28 L1906.7 711.5 L1910.9 710.71 L1915.09 709.91 L1919.28 709.08 L1923.46 708.23 L1927.64 707.37 L1931.82 706.49 L1935.99 705.58 L1940.16 704.66 L1944.32 703.71 L1948.48 702.74 L1952.63 701.74 L1956.78 700.73 L1960.91 699.68 L1965.05 698.62 L1969.17 697.52 L1973.29 696.4 L1977.4 695.25 L1981.5 694.08 L1985.6 692.87 L1989.68 691.64 L1993.76 690.38 L1997.83 689.09 L2001.89 687.76 L2005.93 686.4 L2009.97 685.02 L2014 683.59 L2018.02 682.14 L2022.03 680.66 L2026.03 679.15 L2030.03 677.63 L2034.02 676.1 L2038.01 674.56 L2042.01 673.03 L2046 671.5 L2050 669.99 L2054 668.5 L2058.01 667.03 L2062.03 665.6 L2066.06 664.21 L2070.1 662.86 L2074.15 661.56 L2078.23 660.31 L2082.32 659.13 L2086.43 658.02 L2090.56 656.98 L2094.71 656.01 L2098.88 655.1 L2103.07 654.24 L2107.26 653.42 L2111.47 652.63 L2115.68 651.87 L2119.89 651.13 L2124.11 650.39 L2128.32 649.65 L2132.53 648.9 L2136.74 648.13 L2140.93 647.33 L2145.12 646.5 L2149.29 645.63 L2153.45 644.71 L2157.59 643.74 L2161.72 642.7 L2165.82 641.59 L2169.9 640.41 L2173.96 639.14 L2178 637.77 L2182.01 636.37 L2186.03 635.13 L2190.07 634.27 L2194.14 633.99 L2198.18 634.3 L2202.09 635.21 L2205.81 636.7 L2209.25 638.77 L2212.33 641.41 L2214.96 644.62 L2217.07 648.4 L2218.58 652.72 L2219.4 657.6" stroke="#00ffff" stroke-width="5.4" fill="none" stroke-linecap="round" stroke-linejoin="round" stroke-dasharray="16.6 17.77 3.5 17.77 3.5 17.76"/>
<path d="M1397 739.3 L1412.2 754.5 L1397 769.7 L1381.8 754.5Z" fill="#00ffff"/>
<path d="M1592.3 726.1 L1607.5 741.3 L1592.3 756.5 L1577.1 741.3Z" fill="#00ffff"/>
<path d="M1775 714.2 L1790.2 729.4 L1775 744.6 L1759.8 729.4Z" fill="#00ffff"/>
<path d="M1950 687.2 L1965.2 702.4 L1950 717.6 L1934.8 702.4Z" fill="#00ffff"/>
<path d="M2130.8 634 L2146 649.2 L2130.8 664.4 L2115.6 649.2Z" fill="#00ffff"/>
<path d="M2177.4 622.8 L2192.6 638 L2177.4 653.2 L2162.2 638Z" fill="#00ffff"/>
<path d="M2209 623.4 L2224.2 638.6 L2209 653.8 L2193.8 638.6Z" fill="#00ffff"/>
<path d="M2219.4 642.4 L2234.6 657.6 L2219.4 672.8 L2204.2 657.6Z" fill="#00ffff"/>
</g>
<text x="1373" y="766.75" font-size="38.7" text-anchor="end" class="b">0.000</text>
<text x="1373" y="667.77" font-size="38.7" text-anchor="end" class="b">0.001</text>
<text x="1373" y="569.09" font-size="38.7" text-anchor="end" class="b">0.002</text>
<text x="1373" y="470.41" font-size="38.7" text-anchor="end" class="b">0.003</text>
<text x="1373" y="371.73" font-size="38.7" text-anchor="end" class="b">0.004</text>
<text x="1373" y="273.05" font-size="38.7" text-anchor="end" class="b">0.005</text>
<text x="1373" y="174.37" font-size="38.7" text-anchor="end" class="b">0.006</text>
<text x="1373" y="75.69" font-size="38.7" text-anchor="end" class="b">0.007</text>
<text x="1396.9" y="809.6" font-size="39" text-anchor="middle" class="b">0</text>
<text x="1549.58" y="809.6" font-size="39" text-anchor="middle" class="b">50</text>
<text x="1702.26" y="809.6" font-size="39" text-anchor="middle" class="b">100</text>
<text x="1854.93" y="809.6" font-size="39" text-anchor="middle" class="b">150</text>
<text x="2007.61" y="809.6" font-size="39" text-anchor="middle" class="b">200</text>
<text x="2160.29" y="809.6" font-size="39" text-anchor="middle" class="b">250</text>
<text x="2312.97" y="809.6" font-size="39" text-anchor="middle" class="b">300</text>
<text x="1753.5" y="876.8" font-size="48.6" class="b">M<tspan dy="13.6" font-size="36">t</tspan><tspan dy="-13.6" dx="-0.8"> (kNm)</tspan></text>
<text transform="translate(1264.4 461.0) rotate(-90)" font-size="48.2" letter-spacing="0.55" class="b">CI (rad)</text>
<path d="M1485.5 227.6 H1525.6 M1556.1 227.6 H1595.2" stroke="#000" stroke-width="5.4" stroke-linecap="round" fill="none"/><rect x="1530.3" y="217.3" width="20.6" height="20.6" fill="#000"/><text x="1608.6" y="245.1" font-size="48" text-anchor="start" class="b">P=6mm</text>
<path d="M1485.5 289.1 H1507.5 M1556.5 289.1 H1578" stroke="#ff0000" stroke-width="5.4" stroke-linecap="round" fill="none"/><circle cx="1540.6" cy="289.1" r="11.85" fill="#ff0000"/><text x="1608.6" y="306.6" font-size="48" text-anchor="start" class="b">P=8mm</text>
<path d="M1485.5 350.5 H1489 M1515.5 350.5 H1519 M1556 350.5 H1559.5 M1586.5 350.5 H1590" stroke="#00ff00" stroke-width="5.4" stroke-linecap="round" fill="none"/><path d="M1540.6 334.5 L1554.8 359.09 L1526.4 359.09Z" fill="#00ff00"/><text x="1608.6" y="368" font-size="48" text-anchor="start" class="b">P=10mm</text>
<path d="M1485.5 412.2 H1512 M1556.5 412.2 H1583" stroke="#0000ff" stroke-width="5.4" stroke-linecap="round" fill="none"/><path d="M1526.4 404 L1554.8 404 L1540.6 428.59Z" fill="#0000ff"/><text x="1608.6" y="429.7" font-size="48" text-anchor="start" class="b">P=12mm</text>
<path d="M1485.5 473 H1505 M1521 473 H1525.5 M1556.5 473 H1576 M1592.5 473 H1595.5" stroke="#00ffff" stroke-width="5.4" stroke-linecap="round" fill="none"/><path d="M1540.6 457.8 L1555.8 473 L1540.6 488.2 L1525.4 473Z" fill="#00ffff"/><text x="1608.6" y="490.5" font-size="48" text-anchor="start" class="b">P=14mm</text>
<text x="1746.6" y="975.6" font-size="63.8">(<tspan class="b" font-size="63.5" dx="1.5" dy="0.1">b</tspan><tspan dx="-0.3" dy="-0.1">)</tspan></text>
</svg>
</body>
</html>
